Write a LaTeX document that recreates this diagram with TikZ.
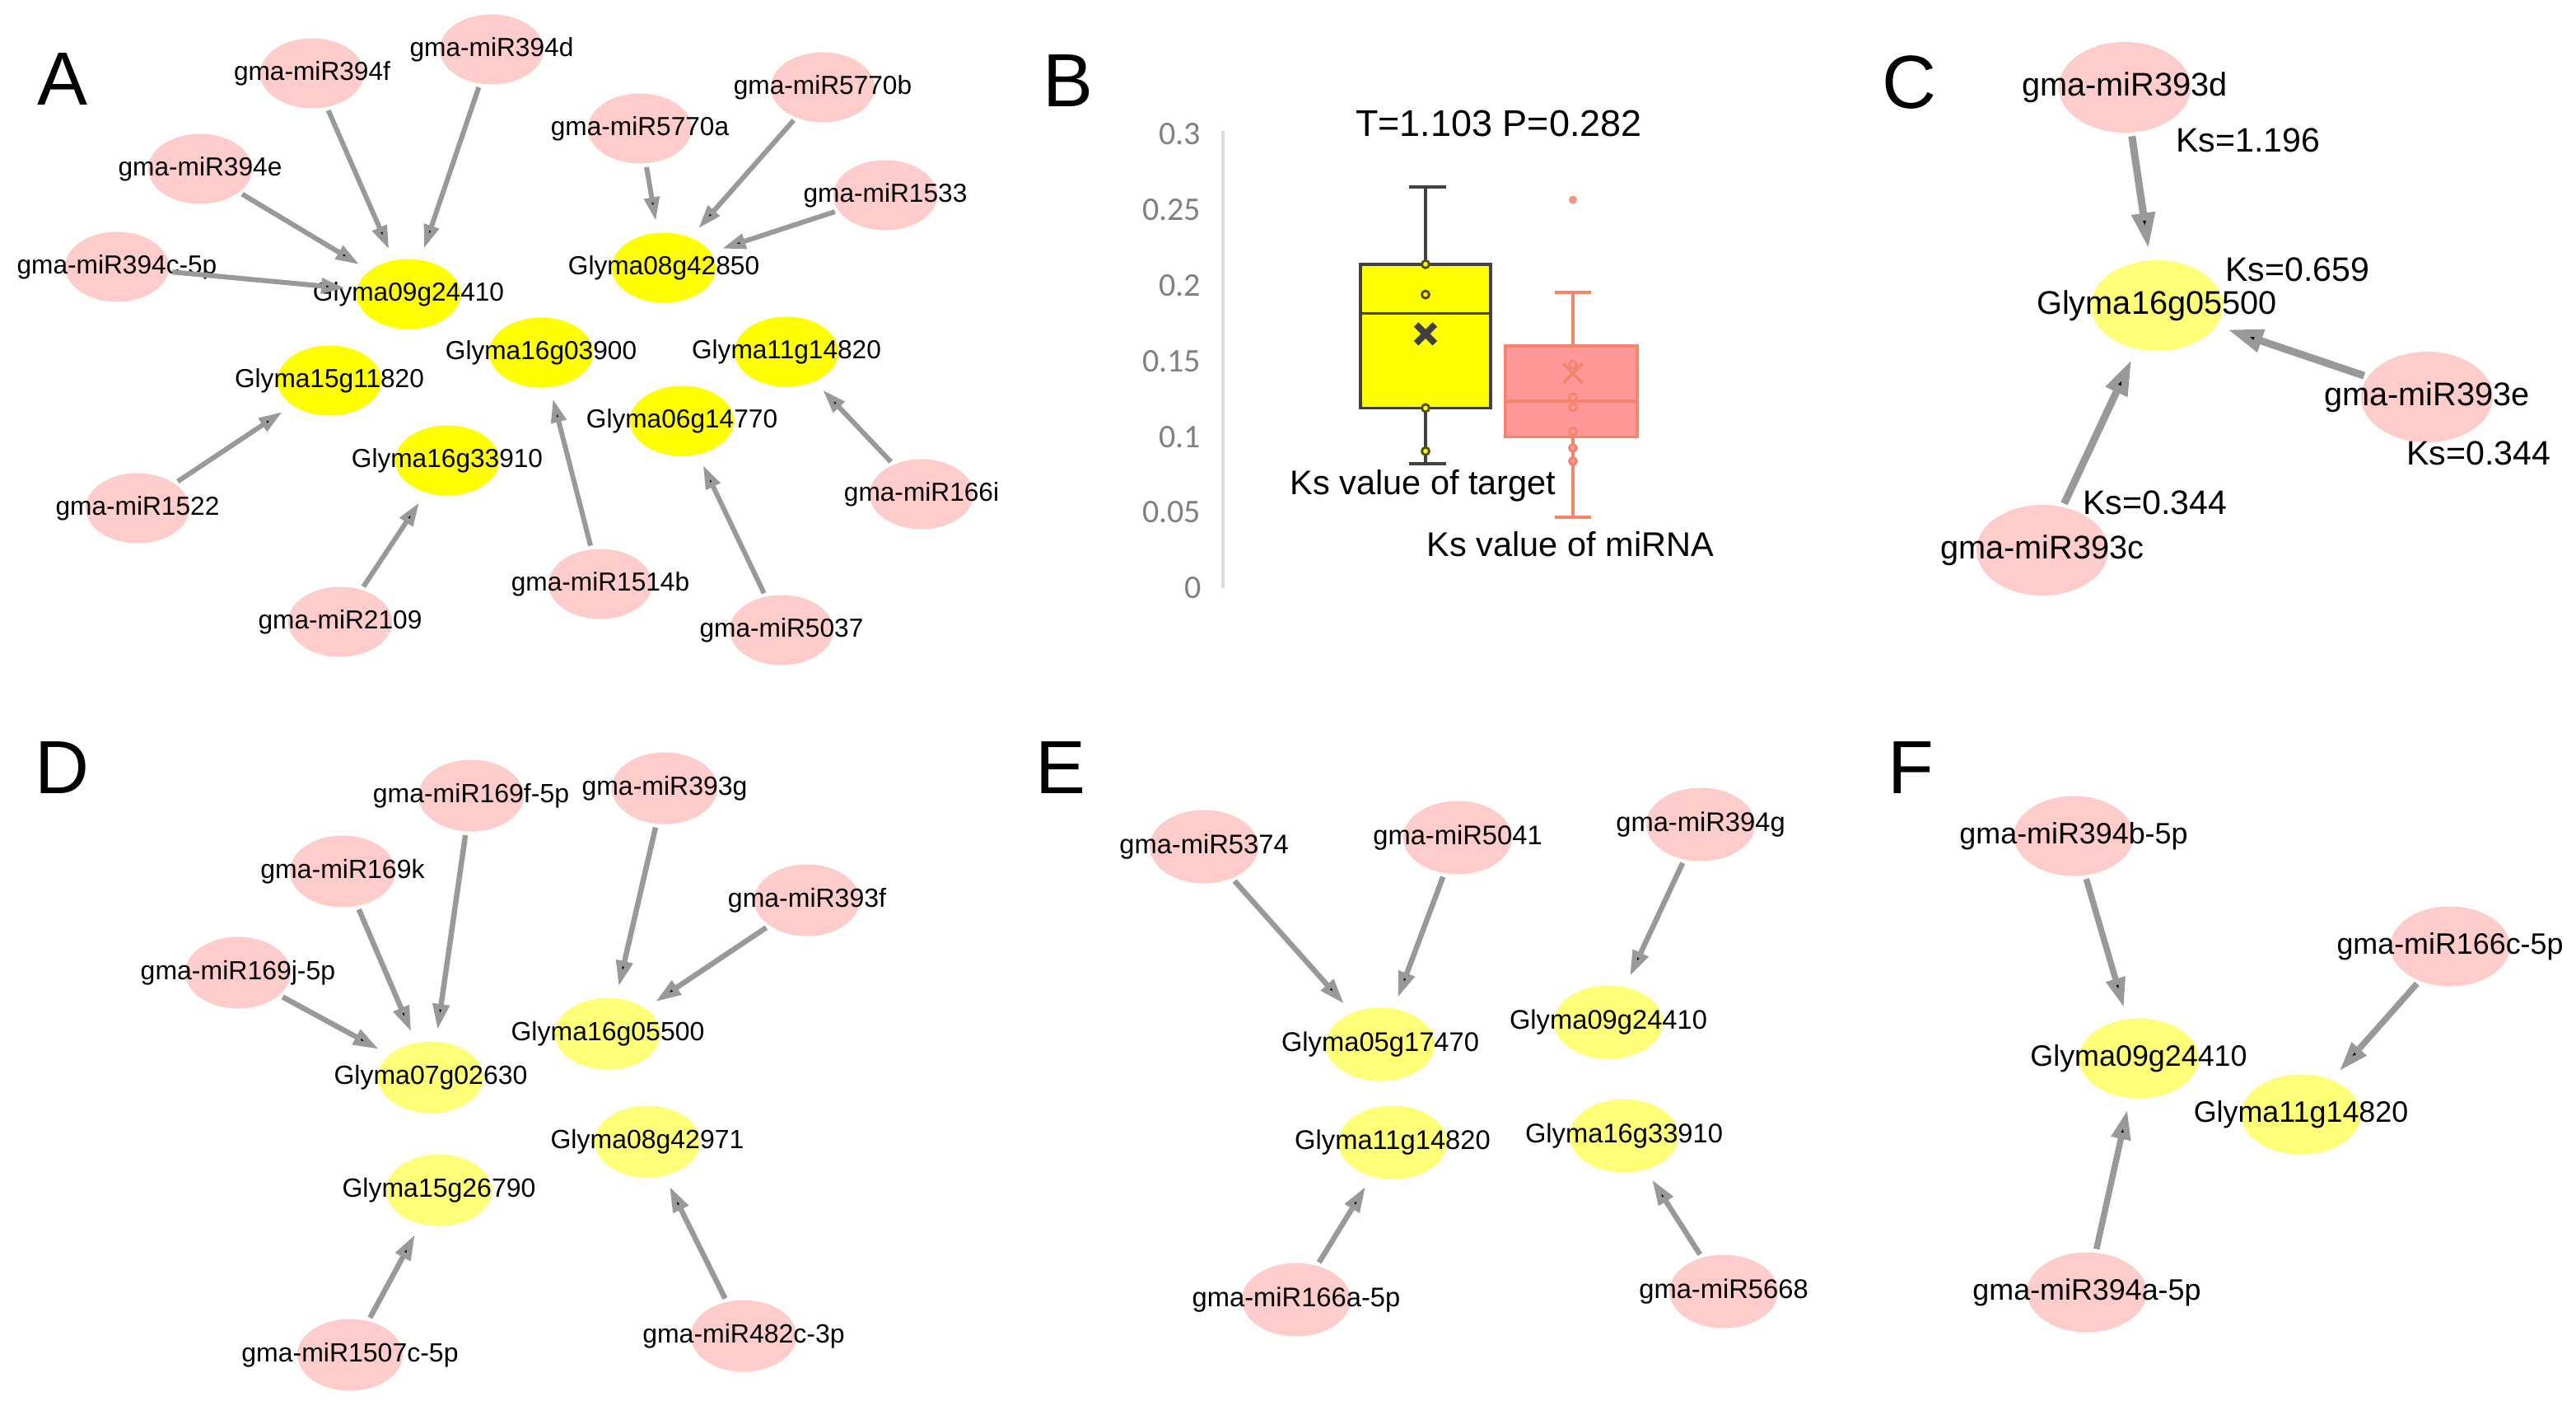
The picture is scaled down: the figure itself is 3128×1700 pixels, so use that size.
\documentclass[tikz,border=0pt]{standalone}
\usepackage{fontspec}
\setmainfont{Liberation Sans}
\newfontfamily\axisfont{Carlito}
\usetikzlibrary{arrows.meta,shapes.geometric,shapes.misc}
\definecolor{mirpink}{RGB}{255,204,204}
\definecolor{tgtyellow}{RGB}{255,255,0}
\definecolor{tgtpale}{RGB}{255,255,120}
\definecolor{edgegray}{RGB}{153,153,153}
\definecolor{boxdark}{RGB}{64,64,64}
\definecolor{dotolive}{RGB}{80,80,0}
\definecolor{boxpink}{RGB}{255,153,153}
\definecolor{boxcoral}{RGB}{244,132,108}
\definecolor{ticktext}{RGB}{128,128,128}
\definecolor{axisline}{RGB}{217,217,217}
\newcommand\ctr[1]{\makebox[0pt]{#1}}
\tikzset{
  nodesize/.style={},
  mir/.style={ellipse, fill=mirpink, inner sep=0pt, nodesize},
  tgt/.style={ellipse, fill=tgtpale, inner sep=0pt, nodesize},
  regul/.style={draw=edgegray, line width=#1,
    -{Triangle[length=0pt 4.8, width=0pt 3]},
    shorten <=0.04cm, shorten >=0.14cm},
  panel/.style={font=\fontsize{26}{28}\selectfont},
  kslabel/.style={font=\fontsize{11.7}{13}\selectfont},
  tick/.style={anchor=east, inner sep=0pt, text=ticktext,
    font=\axisfont\fontsize{11.4}{12}\selectfont},
  dot/.style={line width=0.8pt}
}

\begin{document}
\begin{tikzpicture}[x=0.01cm, y=-0.01cm]
  \useasboundingbox (0,0) rectangle (3128,1700);

  % panel A
  \node[panel] (labA) at (76,96) {A};
  \begin{scope}[nodesize/.style={minimum width=1.26cm, minimum height=0.85cm,
      font=\fontsize{9}{10}\selectfont}]
    \draw
    (379,89) node[mir] (a394f) {\ctr{gma-miR394f}}
    (597,60) node[mir] (a394d) {\ctr{gma-miR394d}}
    (243,205) node[mir] (a394e) {\ctr{gma-miR394e}}
    (142,324) node[mir] (a394c) {\ctr{gma-miR394c-5p}}
    (777,156) node[mir] (a5770a) {\ctr{gma-miR5770a}}
    (999,106) node[mir] (a5770b) {\ctr{gma-miR5770b}}
    (1075,237) node[mir] (a1533) {\ctr{gma-miR1533}}
    (167,617) node[mir] (a1522) {\ctr{gma-miR1522}}
    (1119,600) node[mir] (a166i) {\ctr{gma-miR166i}}
    (413,755) node[mir] (a2109) {\ctr{gma-miR2109}}
    (729,709) node[mir] (a1514b) {\ctr{gma-miR1514b}}
    (949,765) node[mir] (a5037) {\ctr{gma-miR5037}};
    \draw
    (496,357) node[tgt, fill=tgtyellow] (a09g24410) {\ctr{Glyma09g24410}}
    (806,325) node[tgt, fill=tgtyellow] (a08g42850) {\ctr{Glyma08g42850}}
    (657,428) node[tgt, fill=tgtyellow] (a16g03900) {\ctr{Glyma16g03900}}
    (955,427) node[tgt, fill=tgtyellow] (a11g14820) {\ctr{Glyma11g14820}}
    (400,462) node[tgt, fill=tgtyellow] (a15g11820) {\ctr{Glyma15g11820}}
    (828,511) node[tgt, fill=tgtyellow] (a06g14770) {\ctr{Glyma06g14770}}
    (543,559) node[tgt, fill=tgtyellow] (a16g33910) {\ctr{Glyma16g33910}};
    \draw[regul=0.06cm]
    (a394f) edge (a09g24410) (a394d) edge (a09g24410)
    (a394e) edge (a09g24410) (a394c) edge (a09g24410)
    (a5770a) edge (a08g42850) (a5770b) edge (a08g42850) (a1533) edge (a08g42850)
    (a1522) edge (a15g11820) (a2109) edge (a16g33910)
    (a1514b) edge (a16g03900) (a5037) edge (a06g14770)
    (a166i) edge (a11g14820);
  \end{scope}

  % panel B
  \node[panel] (labB) at (1297,98) {B};
  \begin{scope}[shift={(0,714)}, y={(0cm,18.36cm)}]
    \draw[axisline, line width=1pt] (1485,0) -- (1485,0.302);
    \foreach \v [count=\i] in {0,0.05,0.1,0.15,0.2,0.25,0.3}
      \node[tick] (tick\i) at (1459,\v) {\v};
    % target
    \draw[boxdark, line width=1pt] (1731,0.082) -- (1731,0.265);
    \draw[boxdark, line width=1.2pt] (1711,0.265) -- (1756,0.265) (1711,0.082) -- (1756,0.082);
    \draw[boxdark, line width=1pt, fill=tgtyellow] (1652,0.119) rectangle (1810,0.214);
    \draw[boxdark, line width=1pt] (1652,0.1816) -- (1810,0.1816);
    \foreach \v in {0.214,0.194,0.119,0.0905}
      \draw[dot, dotolive, fill=tgtyellow] (1731,\v) circle[radius=0.045cm];
    \node[cross out, draw=boxdark, line width=2.2pt, minimum size=0.15cm, inner sep=0pt] (meanT) at (1731,0.168) {};
    % miRNA
    \draw[boxcoral, line width=1pt] (1910,0.047) -- (1910,0.1955);
    \draw[boxcoral, line width=1.2pt] (1888,0.1955) -- (1932,0.1955) (1888,0.047) -- (1932,0.047);
    \draw[boxcoral, line width=1pt, fill=boxpink] (1828,0.100) rectangle (1988,0.160);
    \draw[boxcoral, line width=1pt] (1828,0.1236) -- (1988,0.1236);
    \foreach \v in {0.1476,0.126,0.1195,0.1035,0.0926,0.0839}
      \draw[dot, boxcoral, fill=boxpink] (1910,\v) circle[radius=0.045cm];
    \fill[boxcoral!85] (1910,0.2566) circle[radius=0.05cm];
    \node[cross out, draw=boxcoral, line width=1pt, minimum size=0.2cm, inner sep=0pt] (meanM) at (1910,0.142) {};
  \end{scope}
  \node[font=\fontsize{12.8}{14}\selectfont] (ttest) at (1820,150) {T=1.103 P=0.282};
  \node[font=\fontsize{11.8}{13}\selectfont] (ksT) at (1728,590) {Ks value of target};
  \node[font=\fontsize{11.8}{13}\selectfont] (ksM) at (1907,661) {Ks value of miRNA};

  % panel C
  \node[panel] (labC) at (2318,100) {C};
  \begin{scope}[nodesize/.style={minimum width=1.6cm, minimum height=1.1cm,
      font=\fontsize{11.3}{12}\selectfont}]
    \draw
    (2580,106) node[mir] (c393d) {\ctr{gma-miR393d}}
    (2619,371) node[tgt] (c16g05500) {\ctr{Glyma16g05500}}
    (2947,482) node[mir] (c393e) {\ctr{gma-miR393e}}
    (2480,668) node[mir] (c393c) {\ctr{gma-miR393c}};
    \draw[regul=0.09cm]
    (c393d) edge (c16g05500) (c393e) edge (c16g05500) (c393c) edge (c16g05500);
  \end{scope}
  \node[kslabel] (ks1) at (2730,170) {Ks=1.196};
  \node[kslabel] (ks2) at (2790,327) {Ks=0.659};
  \node[kslabel] (ks3) at (3010,550) {Ks=0.344};
  \node[kslabel] (ks4) at (2617,610) {Ks=0.344};

  % panel D
  \node[panel] (labD) at (76,932) {D};
  \begin{scope}[nodesize/.style={minimum width=1.28cm, minimum height=0.87cm,
      font=\fontsize{9.1}{10}\selectfont}]
    \draw
    (572,966) node[mir] (d169f) {\ctr{gma-miR169f-5p}}
    (807,957) node[mir] (d393g) {\ctr{gma-miR393g}}
    (416,1058) node[mir] (d169k) {\ctr{gma-miR169k}}
    (980,1093) node[mir] (d393f) {\ctr{gma-miR393f}}
    (289,1181) node[mir] (d169j) {\ctr{gma-miR169j-5p}}
    (425,1645) node[mir] (d1507c) {\ctr{gma-miR1507c-5p}}
    (903,1622) node[mir] (d482c) {\ctr{gma-miR482c-3p}}
    (738,1255) node[tgt] (d16g05500) {\ctr{Glyma16g05500}}
    (523,1308) node[tgt] (d07g02630) {\ctr{Glyma07g02630}}
    (786,1386) node[tgt] (d08g42971) {\ctr{Glyma08g42971}}
    (533,1445) node[tgt] (d15g26790) {\ctr{Glyma15g26790}};
    \draw[regul=0.065cm]
    (d169f) edge (d07g02630) (d169k) edge (d07g02630) (d169j) edge (d07g02630)
    (d393g) edge (d16g05500) (d393f) edge (d16g05500)
    (d1507c) edge (d15g26790) (d482c) edge (d08g42971);
  \end{scope}

  % panel E
  \node[panel] (labE) at (1288,932) {E};
  \begin{scope}[nodesize/.style={minimum width=1.32cm, minimum height=0.89cm,
      font=\fontsize{9.3}{10}\selectfont}]
    \draw
    (1462,1028) node[mir] (e5374) {\ctr{gma-miR5374}}
    (1770,1017) node[mir] (e5041) {\ctr{gma-miR5041}}
    (2065,1001) node[mir] (e394g) {\ctr{gma-miR394g}}
    (1574,1578) node[mir] (e166a) {\ctr{gma-miR166a-5p}}
    (2093,1568) node[mir] (e5668) {\ctr{gma-miR5668}}
    (1676,1268) node[tgt] (e05g17470) {\ctr{Glyma05g17470}}
    (1953,1241) node[tgt] (e09g24410) {\ctr{Glyma09g24410}}
    (1691,1387) node[tgt] (e11g14820) {\ctr{Glyma11g14820}}
    (1972,1379) node[tgt] (e16g33910) {\ctr{Glyma16g33910}};
    \draw[regul=0.065cm]
    (e5374) edge (e05g17470) (e5041) edge (e05g17470)
    (e394g) edge (e09g24410) (e166a) edge (e11g14820)
    (e5668) edge (e16g33910);
  \end{scope}

  % panel F
  \node[panel] (labF) at (2320,932) {F};
  \begin{scope}[nodesize/.style={minimum width=1.45cm, minimum height=0.97cm,
      font=\fontsize{10.2}{11}\selectfont}]
    \draw
    (2518,1015) node[mir] (f394b) {\ctr{gma-miR394b-5p}}
    (2975,1149) node[mir] (f166c) {\ctr{gma-miR166c-5p}}
    (2534,1569) node[mir] (f394a) {\ctr{gma-miR394a-5p}}
    (2597,1285) node[tgt] (f09g24410) {\ctr{Glyma09g24410}}
    (2794,1353) node[tgt] (f11g14820) {\ctr{Glyma11g14820}};
    \draw[regul=0.075cm]
    (f394b) edge (f09g24410) (f394a) edge (f09g24410)
    (f166c) edge (f11g14820);
  \end{scope}
\end{tikzpicture}
\end{document}
